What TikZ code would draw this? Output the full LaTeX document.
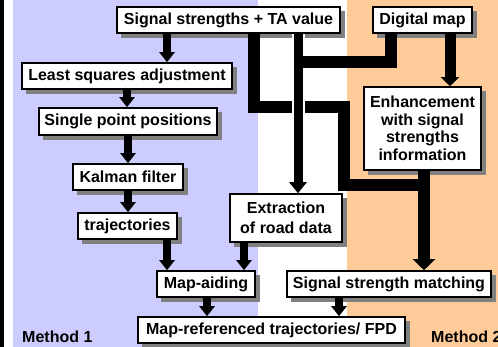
\documentclass[tikz,border=0pt]{standalone}
\usepackage{fontspec}
\setmainfont{Liberation Sans}
\usetikzlibrary{arrows.meta}
\definecolor{lav}{HTML}{CCCCFF}
\definecolor{peach}{HTML}{FFCC99}
\definecolor{shd}{HTML}{808080}
\pgfdeclarelayer{bg}
\pgfsetlayers{bg,main}
\tikzset{
  box/.style={draw=black, line width=1.6pt, fill=white, inner sep=0pt, align=center,
    font=\fontsize{16}{17.5}\selectfont\bfseries},
  lbl/.style={inner sep=0pt, font=\fontsize{16}{17.5}\selectfont\bfseries},
  arr/.style={line width=8pt, -{Triangle[width=15pt,length=10pt]}},
  midarr/.style={line width=9pt, -{Triangle[width=17pt,length=11pt]},
    preaction={draw=white, line width=13pt}},
  dmarr/.style={line width=11pt, -{Triangle[width=18pt,length=9pt]}},
  bigarr/.style={line width=12.5pt, -{Triangle[width=22pt,length=11pt]}},
  bus/.style={line width=11.5pt, line join=miter},
  shadowfill/.style={fill=shd},
}
\newcommand{\boxshadow}[1]{%
  \fill[shadowfill] ([shift={(4.5,4.5)}]#1.north west) rectangle ([shift={(4.5,4.5)}]#1.south east);}
\begin{document}
\begin{tikzpicture}[x=1pt,y=-1pt]
\useasboundingbox (0,0) rectangle (498,347);

% boxes
\node[box, minimum width=223pt, minimum height=26pt] (sig) at (228.5,20) {Signal strengths + TA value};
\node[box, minimum width=99pt, minimum height=26pt] (dmap) at (422.5,20) {Digital map};
\node[box, minimum width=210pt, minimum height=26pt] (lsq) at (127,76) {Least squares adjustment};
\node[box, minimum width=178pt, minimum height=27pt] (spp) at (128,121.5) {Single point positions};
\node[box, minimum width=110pt, minimum height=26pt] (kal) at (128,177) {Kalman filter};
\node[box, minimum width=99pt, minimum height=26pt] (traj) at (127.5,226) {trajectories};
\node[box, minimum width=98pt, minimum height=26pt] (maid) at (206,284) {Map-aiding};
\node[box, minimum width=267pt, minimum height=26pt] (mref) at (271.5,330) {Map-referenced trajectories/ FPD};
\node[box, minimum width=112pt, minimum height=48pt, font=\fontsize{16}{20}\selectfont\bfseries] (extr) at (286,218) {Extraction\\of road data};
\node[box, minimum width=204pt, minimum height=26pt] (ssm) at (389,284) {Signal strength matching};
\node[box, minimum width=117pt, minimum height=83pt] (enh) at (422.5,128.5) {Enhancement\\with signal\\strengths\\information};

% labels
\node[lbl, anchor=base west] (m1) at (22,342) {Method 1};
\node[lbl, anchor=base west] (m2) at (431,342) {Method 2};

% backgrounds and shadows
\begin{pgfonlayer}{bg}
\fill[white] (0,0) rectangle (498,347);
\fill[black] (0,0) rectangle (4,347);
\fill[lav] (13,0) rectangle (258,347);
\fill[peach] (347,0) rectangle (498,347);
\boxshadow{sig}
\boxshadow{dmap}
\boxshadow{lsq}
\boxshadow{spp}
\boxshadow{kal}
\boxshadow{traj}
\boxshadow{maid}
\boxshadow{mref}
\boxshadow{extr}
\boxshadow{ssm}
\boxshadow{enh}
\end{pgfonlayer}

% left column arrows
\draw[arr] (sig.south -| 167,0) -- (lsq.north -| 167,0);
\draw[arr] (lsq.south -| 127,0) -- (spp.north -| 127,0);
\draw[arr] (spp.south -| 128,0) -- (kal.north -| 128,0);
\draw[arr] (kal.south -| 128,0) -- (traj.north -| 128,0);
\draw[arr] (traj.south -| 167,0) -- (maid.north -| 167,0);
\draw[arr] (extr.south -| 244,0) -- (maid.north -| 244,0);
\draw[arr] (maid.south -| 207,0) -- (mref.north -| 207,0);
\draw[arr] (ssm.south -| 339,0) -- (mref.north -| 339,0);

% buses
\coordinate (j1) at (344,107);
\coordinate (j2) at (424,185);
\draw[bus] (sig.south -| 254,0) |- (j1) |- (j2);
\draw[midarr] (sig.south -| 298,0) -- (extr.north -| 298,0);
\coordinate (j3) at (298,62);
\draw[bus] (dmap.south -| 391,0) |- (j3);
\draw[dmarr] (dmap.south -| 450,0) -- (enh.north -| 450,0);
\draw[bigarr] (enh.south -| 424,0) -- (ssm.north -| 424,0);
\end{tikzpicture}
\end{document}
